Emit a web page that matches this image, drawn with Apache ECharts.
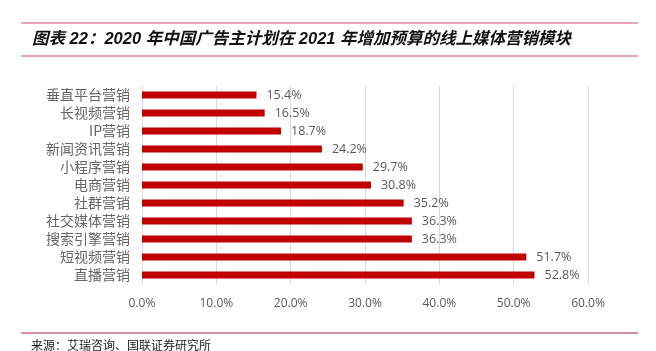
<!DOCTYPE html>
<html>
<head>
<meta charset="utf-8">
<script src="https://cdn.jsdelivr.net/npm/echarts@6/dist/echarts.min.js"></script>
<style>
  html, body { margin: 0; padding: 0; background: #fff; }
  #chart { width: 656px; height: 351px; }
</style>
</head>
<body>
<div id="chart"></div>
<script>
  // 类目与数值（从上到下）
  var categories = ['垂直平台营销', '长视频营销', 'IP营销', '新闻资讯营销', '小程序营销', '电商营销',
    '社群营销', '社交媒体营销', '搜索引擎营销', '短视频营销', '直播营销'];
  var values = [15.4, 16.5, 18.7, 24.2, 29.7, 30.8, 35.2, 36.3, 36.3, 51.7, 52.8];
  var xTicks = [0, 10, 20, 30, 40, 50, 60];

  var chart = echarts.init(document.getElementById('chart'));

  var option = {
    backgroundColor: '#fff',
    animation: false,
    grid: {
      left: 142,
      right: 68,
      top: 86,
      bottom: 67
    },
    graphic: [
      {
        type: 'line',
        shape: { x1: 21, y1: 23, x2: 638, y2: 23 },
        style: { stroke: '#e0889c', lineWidth: 1.5 }
      },
      {
        type: 'line',
        shape: { x1: 21, y1: 56, x2: 638, y2: 56 },
        style: { stroke: '#e0889c', lineWidth: 1.5 }
      },
      {
        type: 'text',
        left: 32,
        top: 31,
        style: {
          text: '图表 22：2020 年中国广告主计划在 2021 年增加预算的线上媒体营销模块',
          font: 'italic bold 16.5px "Liberation Sans", "Noto Sans CJK SC"',
          fill: '#111'
        }
      },
      {
        type: 'line',
        shape: { x1: 21, y1: 333, x2: 638, y2: 333 },
        style: { stroke: '#a8203f', lineWidth: 1 }
      },
      {
        type: 'text',
        left: 31,
        top: 339,
        style: {
          text: '来源：艾瑞咨询、国联证券研究所',
          font: '12px "Noto Sans CJK SC"',
          fill: '#222'
        }
      }
    ],
    xAxis: {
      type: 'value',
      min: 0,
      max: 60,
      interval: 10,
      axisLine: { show: false },
      axisTick: { show: false },
      splitLine: { lineStyle: { color: '#d9d9d9', width: 1 } },
      axisLabel: {
        margin: 14,
        color: '#595959',
        fontSize: 12,
        fontFamily: '"Open Sans", "Liberation Sans", sans-serif',
        formatter: function (v) {
          return xTicks.indexOf(v) >= 0 ? v.toFixed(1) + '%' : '';
        }
      }
    },
    yAxis: {
      type: 'category',
      data: categories,
      inverse: true,
      axisLine: { show: true, lineStyle: { color: '#d9d9d9' } },
      axisTick: { show: false },
      axisLabel: {
        interval: 0,
        margin: 12,
        color: '#666',
        fontSize: 14,
        lineHeight: 16,
        fontFamily: '"Noto Sans CJK SC"'
      }
    },
    series: [{
      type: 'bar',
      data: values,
      barWidth: 7,
      itemStyle: { color: '#c00000' },
      label: {
        show: true,
        position: 'right',
        distance: 10,
        color: '#595959',
        fontSize: 12.5,
        fontFamily: '"Open Sans", "Liberation Sans", sans-serif',
        formatter: function (p) { return p.value.toFixed(1) + '%'; }
      }
    }]
  };

  chart.setOption(option);
</script>
</body>
</html>
